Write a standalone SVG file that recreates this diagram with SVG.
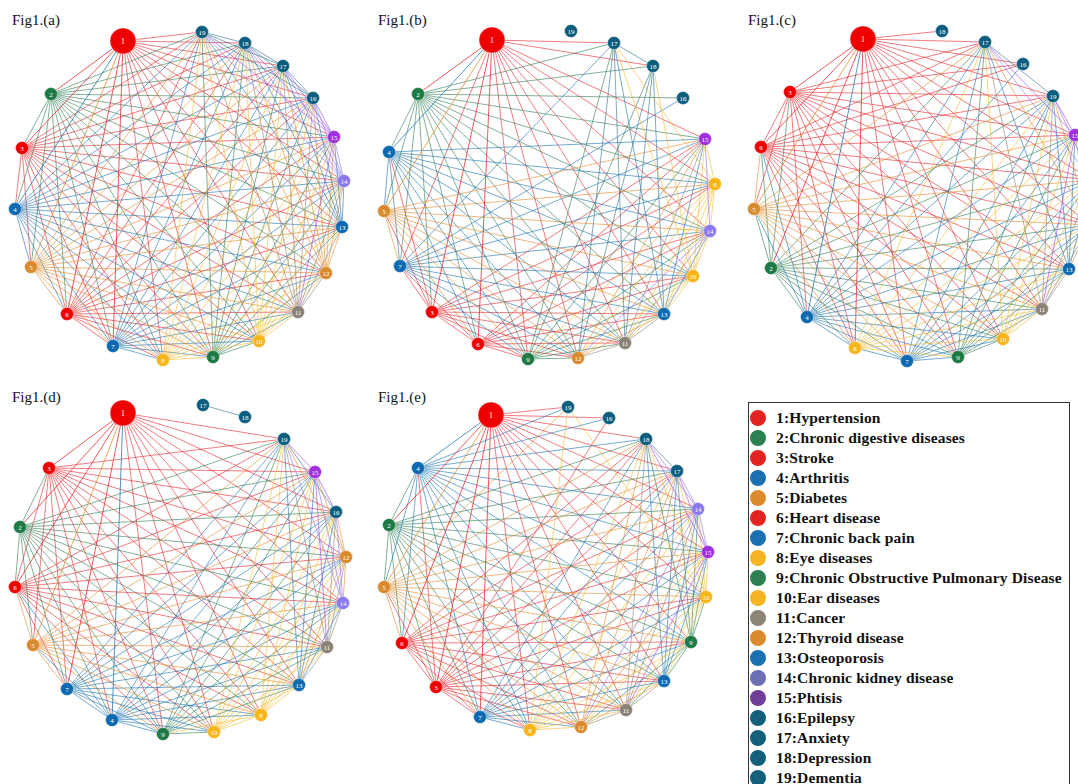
<svg xmlns="http://www.w3.org/2000/svg" width="1078" height="784" viewBox="0 0 1078 784">
<style>
.e path{fill:none;stroke-width:.8;stroke-opacity:.75;stroke-linecap:round}
.e path.w{stroke-opacity:.95}
.er{stroke:#E8232B}.eg{stroke:#2E7D50}.eb{stroke:#1A72B0}.eo{stroke:#E08A2A}.ey{stroke:#F5B82A}.ek{stroke:#8B8378}.el{stroke:#8A70F0}.ep{stroke:#A040F0}.et{stroke:#2A7090}
.n circle{stroke:#fff;stroke-width:.4}
.n text{fill:#fff;font-family:"Liberation Serif",serif;font-size:7px;text-anchor:middle}
.nr circle{fill:#EE0000}.ng circle{fill:#1E7A45}.nb circle{fill:#0E6AB0}.no circle{fill:#D98A2E}.ny circle{fill:#F8B517}.nk circle{fill:#8B8378}.nl circle{fill:#8A78EE}.np circle{fill:#A030E0}.nt circle{fill:#0C5E7E}
.big text{font-size:8px}
.lab{font-family:"Liberation Serif",serif;font-size:15px;fill:#111}
.leg text{font-family:"Liberation Serif",serif;font-size:15.5px;font-weight:bold;fill:#111;letter-spacing:.15px}
</style>
<rect width="1078" height="784" fill="#fff"/>
<g class="lab"><text x="12" y="25">Fig1.(a)</text><text x="378" y="25">Fig1.(b)</text><text x="748" y="25">Fig1.(c)</text><text x="12" y="402">Fig1.(d)</text><text x="378" y="402">Fig1.(e)</text></g>
<g id="connectors" class="e">
<!-- panel a -->
<path class="er" d="M123 41L163 360M123 41L213 357M123 41L259 341M123 41L298 312M123 41L326 273M123 41L342 227M123 41L344 181M123 41L334 137M123 41L313 98M123 41L283 66M123 41L245 43M123 41L202 32M22 148L15 209M22 148L31 267M22 148L67 314M22 148L113 346M22 148L163 360M22 148L213 357M22 148L259 341M22 148L298 312M22 148L326 273M22 148L342 227M22 148L344 181M22 148L334 137M22 148L313 98M22 148L283 66M22 148L245 43M22 148L202 32M67 314L113 346M67 314L163 360M67 314L213 357M67 314L259 341M67 314L298 312M67 314L326 273M67 314L342 227M67 314L344 181M67 314L334 137M67 314L313 98M67 314L283 66M67 314L245 43M67 314L202 32"/>
<path class="eg" d="M51 94L22 148M51 94L15 209M51 94L31 267M51 94L67 314M51 94L113 346M51 94L163 360M51 94L213 357M51 94L259 341M51 94L298 312M51 94L326 273M51 94L342 227M51 94L344 181M51 94L334 137M51 94L313 98M51 94L283 66M51 94L245 43M51 94L202 32M213 357L259 341M213 357L298 312M213 357L326 273M213 357L342 227M213 357L344 181M213 357L334 137M213 357L313 98M213 357L283 66M213 357L245 43M213 357L202 32"/>
<path class="eb" d="M15 209L31 267M15 209L67 314M15 209L113 346M15 209L163 360M15 209L213 357M15 209L259 341M15 209L298 312M15 209L326 273M15 209L342 227M15 209L344 181M15 209L334 137M15 209L313 98M15 209L283 66M15 209L245 43M15 209L202 32M113 346L163 360M113 346L213 357M113 346L259 341M113 346L298 312M113 346L326 273M113 346L342 227M113 346L344 181M113 346L334 137M113 346L313 98M113 346L283 66M113 346L245 43M113 346L202 32M342 227L344 181M342 227L334 137M342 227L313 98M342 227L283 66M342 227L245 43M342 227L202 32"/>
<path class="eo" d="M31 267L67 314M31 267L113 346M31 267L163 360M31 267L213 357M31 267L259 341M31 267L298 312M31 267L326 273M31 267L342 227M31 267L344 181M31 267L334 137M31 267L313 98M31 267L283 66M31 267L245 43M31 267L202 32M326 273L342 227M326 273L344 181M326 273L334 137M326 273L313 98M326 273L283 66M326 273L245 43M326 273L202 32"/>
<path class="ey" d="M163 360L213 357M163 360L259 341M163 360L298 312M163 360L326 273M163 360L342 227M163 360L344 181M163 360L334 137M163 360L313 98M163 360L283 66M163 360L245 43M163 360L202 32M259 341L298 312M259 341L326 273M259 341L342 227M259 341L344 181M259 341L334 137M259 341L313 98M259 341L283 66M259 341L245 43M259 341L202 32"/>
<path class="ek" d="M298 312L326 273M298 312L342 227M298 312L344 181M298 312L313 98M298 312L283 66M298 312L245 43M298 312L202 32"/>
<path class="ep" d="M298 312L334 137M334 137L313 98M334 137L283 66M334 137L245 43M334 137L202 32"/>
<path class="el" d="M344 181L334 137M344 181L313 98M344 181L283 66M344 181L245 43M344 181L202 32"/>
<path class="et" d="M313 98L283 66M313 98L245 43M313 98L202 32M283 66L245 43M283 66L202 32M245 43L202 32"/>
<path class="er w" stroke-width="2" d="M123 41L51 94M123 41L22 148M123 41L67 314"/>
<path class="er w" stroke-width="1.4" d="M123 41L113 346"/>
<path class="eb w" stroke-width="1.8" d="M123 41L15 209"/>
<path class="eo w" stroke-width="1.3" d="M123 41L31 267"/>
<!-- panel b -->
<path class="er" d="M492 40L400 266M492 40L715 184M492 40L528 359M492 40L693 276M492 40L625 343M492 40L578 358M492 40L664 314M492 40L710 231M492 40L705 139M492 40L614 43M492 40L653 66M432 312L389 152M432 312L384 211M432 312L478 344M432 312L400 266M432 312L715 184M432 312L528 359M432 312L693 276M432 312L625 343M432 312L578 358M432 312L664 314M432 312L710 231M432 312L705 139M478 344L400 266M478 344L715 184M478 344L528 359M478 344L693 276M478 344L625 343M478 344L578 358M478 344L664 314M478 344L710 231M478 344L705 139"/>
<path class="eg" d="M418 94L432 312M418 94L389 152M418 94L384 211M418 94L478 344M418 94L400 266M418 94L715 184M418 94L528 359M418 94L693 276M418 94L625 343M418 94L578 358M418 94L664 314M418 94L710 231M418 94L705 139M418 94L683 98M418 94L614 43M418 94L653 66M528 359L693 276M528 359L625 343M528 359L578 358M528 359L664 314M528 359L710 231M528 359L705 139M528 359L614 43M528 359L653 66"/>
<path class="eb" d="M389 152L384 211M389 152L478 344M389 152L400 266M389 152L715 184M389 152L528 359M389 152L693 276M389 152L625 343M389 152L578 358M389 152L664 314M389 152L710 231M389 152L705 139M400 266L715 184M400 266L528 359M400 266L693 276M400 266L625 343M400 266L578 358M400 266L664 314M400 266L710 231M400 266L705 139M400 266L683 98M400 266L614 43M664 314L710 231M664 314L705 139M664 314L614 43M664 314L653 66"/>
<path class="eo" d="M384 211L478 344M384 211L400 266M384 211L715 184M384 211L528 359M384 211L693 276M384 211L625 343M384 211L578 358M384 211L664 314M384 211L710 231M384 211L705 139M578 358L664 314M578 358L705 139"/>
<path class="ey" d="M715 184L528 359M715 184L693 276M715 184L625 343M715 184L578 358M715 184L664 314M715 184L710 231M715 184L705 139M715 184L614 43M693 276L625 343M693 276L578 358M693 276L664 314M693 276L710 231M693 276L705 139M693 276L614 43M693 276L653 66"/>
<path class="ek" d="M625 343L578 358M625 343L664 314M625 343L710 231M625 343L705 139"/>
<path class="el" d="M578 358L710 231M710 231L705 139"/>
<path class="et" d="M625 343L614 43M625 343L653 66M578 358L614 43M578 358L653 66M614 43L653 66"/>
<path class="er w" stroke-width="2" d="M492 40L418 94M492 40L478 344"/>
<path class="er w" stroke-width="1.7" d="M492 40L432 312"/>
<path class="eb w" stroke-width="2" d="M492 40L389 152"/>
<path class="eo w" stroke-width="1.3" d="M492 40L384 211"/>
<!-- panel c -->
<path class="er" d="M863 39L907 361M863 39L958 357M863 39L1003 339M863 39L1042 309M863 39L1090 225M863 39L1069 269M863 39L1092 180M863 39L1075 135M863 39L1023 64M863 39L985 42M863 39L942 31M863 39L1053 96M790 92L807 317M790 92L754 209M790 92L761 147M790 92L907 361M790 92L855 348M790 92L958 357M790 92L1003 339M790 92L1042 309M790 92L1090 225M790 92L1069 269M790 92L1092 180M790 92L1075 135M790 92L1023 64M790 92L985 42M790 92L1053 96M761 147L907 361M761 147L855 348M761 147L958 357M761 147L1003 339M761 147L1042 309M761 147L1090 225M761 147L1069 269M761 147L1092 180M761 147L1075 135M761 147L1023 64M761 147L985 42M761 147L1053 96"/>
<path class="eg" d="M771 268L790 92M771 268L807 317M771 268L754 209M771 268L761 147M771 268L907 361M771 268L855 348M771 268L958 357M771 268L1003 339M771 268L1042 309M771 268L1090 225M771 268L1069 269M771 268L1092 180M771 268L1075 135M771 268L985 42M771 268L1053 96M958 357L1003 339M958 357L1042 309M958 357L1090 225M958 357L1069 269M958 357L1092 180M958 357L1075 135M958 357L985 42M958 357L1053 96"/>
<path class="eb" d="M807 317L754 209M807 317L761 147M807 317L907 361M807 317L855 348M807 317L958 357M807 317L1003 339M807 317L1042 309M807 317L1090 225M807 317L1069 269M807 317L1092 180M807 317L1075 135M807 317L1023 64M807 317L985 42M807 317L1053 96M907 361L855 348M907 361L958 357M907 361L1003 339M907 361L1042 309M907 361L1090 225M907 361L1069 269M907 361L1092 180M907 361L1075 135M907 361L985 42M907 361L1053 96M1069 269L1092 180M1069 269L1075 135M1069 269L985 42M1069 269L1053 96"/>
<path class="eo" d="M754 209L761 147M754 209L907 361M754 209L855 348M754 209L958 357M754 209L1003 339M754 209L1042 309M754 209L1090 225M754 209L1069 269M754 209L1092 180M754 209L1075 135M754 209L985 42M754 209L1053 96M1090 225L1069 269M1090 225L1092 180M1090 225L1075 135M1090 225L985 42M1090 225L1053 96"/>
<path class="ey" d="M855 348L958 357M855 348L1003 339M855 348L1042 309M855 348L1090 225M855 348L1069 269M855 348L1092 180M855 348L1075 135M855 348L985 42M855 348L1053 96M1003 339L1042 309M1003 339L1090 225M1003 339L1069 269M1003 339L1092 180M1003 339L1075 135M1003 339L985 42M1003 339L1053 96"/>
<path class="ek" d="M1042 309L1090 225M1042 309L1069 269M1042 309L1092 180M1042 309L985 42M1042 309L1053 96"/>
<path class="ep" d="M1042 309L1075 135M1075 135L985 42M1075 135L1053 96"/>
<path class="el" d="M1092 180L1075 135M1092 180L985 42M1092 180L1053 96"/>
<path class="et" d="M985 42L1053 96"/>
<path class="er w" stroke-width="2" d="M863 39L790 92M863 39L761 147"/>
<path class="er w" stroke-width="1.6" d="M863 39L771 268"/>
<path class="er w" stroke-width="1.2" d="M863 39L855 348"/>
<path class="eo w" stroke-width="1.3" d="M863 39L754 209"/>
<path class="eb w" stroke-width="1.5" d="M863 39L807 317"/>
<!-- panel d -->
<path class="er" d="M123 413L261 715M123 413L163 734M123 413L214 732M123 413L327 647M123 413L346 557M123 413L299 685M123 413L343 603M123 413L315 472M123 413L336 512M123 413L284 439M49 468L112 720M49 468L33 645M49 468L15 587M49 468L67 689M49 468L261 715M49 468L163 734M49 468L214 732M49 468L327 647M49 468L346 557M49 468L299 685M49 468L343 603M49 468L315 472M49 468L336 512M49 468L284 439M15 587L67 689M15 587L261 715M15 587L163 734M15 587L214 732M15 587L327 647M15 587L346 557M15 587L299 685M15 587L343 603M15 587L315 472M15 587L336 512M15 587L284 439"/>
<path class="eg" d="M20 527L49 468M20 527L112 720M20 527L33 645M20 527L15 587M20 527L67 689M20 527L261 715M20 527L163 734M20 527L214 732M20 527L327 647M20 527L346 557M20 527L299 685M20 527L343 603M20 527L315 472M20 527L336 512M20 527L284 439M163 734L214 732M163 734L327 647M163 734L346 557M163 734L299 685M163 734L343 603M163 734L315 472M163 734L336 512M163 734L284 439"/>
<path class="eb" d="M112 720L33 645M112 720L15 587M112 720L67 689M112 720L261 715M112 720L163 734M112 720L214 732M112 720L327 647M112 720L346 557M112 720L299 685M112 720L343 603M112 720L315 472M112 720L336 512M112 720L284 439M67 689L261 715M67 689L163 734M67 689L214 732M67 689L327 647M67 689L346 557M67 689L299 685M67 689L343 603M67 689L315 472M67 689L336 512M67 689L284 439M299 685L343 603M299 685L315 472M299 685L336 512M299 685L284 439"/>
<path class="eo" d="M33 645L15 587M33 645L67 689M33 645L261 715M33 645L163 734M33 645L214 732M33 645L327 647M33 645L346 557M33 645L299 685M33 645L343 603M33 645L315 472M33 645L336 512M33 645L284 439M346 557L299 685M346 557L343 603M346 557L315 472M346 557L336 512M346 557L284 439"/>
<path class="ey" d="M261 715L163 734M261 715L214 732M261 715L327 647M261 715L346 557M261 715L299 685M261 715L343 603M261 715L315 472M261 715L336 512M261 715L284 439M214 732L327 647M214 732L346 557M214 732L299 685M214 732L343 603M214 732L315 472M214 732L336 512M214 732L284 439"/>
<path class="ek" d="M327 647L346 557M327 647L299 685M327 647L343 603M327 647L336 512M327 647L284 439"/>
<path class="ep" d="M327 647L315 472M315 472L336 512M315 472L284 439"/>
<path class="el" d="M343 603L315 472M343 603L336 512M343 603L284 439"/>
<path class="et" d="M336 512L284 439M203 405L245 417"/>
<path class="er w" stroke-width="2" d="M123 413L49 468M123 413L15 587"/>
<path class="er w" stroke-width="1.4" d="M123 413L20 527"/>
<path class="er w" stroke-width="1.2" d="M123 413L67 689"/>
<path class="eo w" stroke-width="1.2" d="M123 413L33 645"/>
<path class="eb w" stroke-width="1.2" d="M123 413L112 720"/>
<!-- panel e -->
<path class="er" d="M491 415L530 730M491 415L691 642M491 415L706 597M491 415L626 710M491 415L581 727M491 415L664 681M491 415L698 509M491 415L708 552M491 415L609 418M491 415L677 471M491 415L646 439M491 415L568 407M436 687L418 468M436 687L384 587M436 687L402 643M436 687L480 717M436 687L530 730M436 687L691 642M436 687L706 597M436 687L626 710M436 687L581 727M436 687L664 681M436 687L698 509M436 687L708 552M436 687L609 418M436 687L677 471M436 687L646 439M402 643L480 717M402 643L530 730M402 643L691 642M402 643L706 597M402 643L626 710M402 643L581 727M402 643L664 681M402 643L698 509M402 643L708 552M402 643L677 471M402 643L646 439"/>
<path class="eg" d="M389 525L436 687M389 525L418 468M389 525L384 587M389 525L402 643M389 525L480 717M389 525L530 730M389 525L691 642M389 525L706 597M389 525L626 710M389 525L581 727M389 525L664 681M389 525L698 509M389 525L708 552M389 525L677 471M389 525L646 439M691 642L706 597M691 642L626 710M691 642L581 727M691 642L664 681M691 642L698 509M691 642L708 552M691 642L677 471M691 642L646 439"/>
<path class="eb" d="M418 468L384 587M418 468L402 643M418 468L480 717M418 468L530 730M418 468L691 642M418 468L706 597M418 468L626 710M418 468L581 727M418 468L664 681M418 468L698 509M418 468L708 552M418 468L609 418M418 468L677 471M418 468L646 439M418 468L568 407M480 717L530 730M480 717L691 642M480 717L706 597M480 717L626 710M480 717L581 727M480 717L664 681M480 717L698 509M480 717L708 552M480 717L677 471M480 717L646 439M664 681L698 509M664 681L708 552M664 681L677 471M664 681L646 439"/>
<path class="eo" d="M384 587L402 643M384 587L480 717M384 587L530 730M384 587L691 642M384 587L706 597M384 587L626 710M384 587L581 727M384 587L664 681M384 587L698 509M384 587L708 552M384 587L677 471M384 587L646 439M384 587L568 407M581 727L664 681M581 727L708 552M581 727L677 471M581 727L646 439"/>
<path class="ey" d="M530 730L691 642M530 730L706 597M530 730L626 710M530 730L581 727M530 730L664 681M530 730L698 509M530 730L708 552M530 730L677 471M530 730L646 439M530 730L568 407M706 597L626 710M706 597L581 727M706 597L664 681M706 597L698 509M706 597L708 552M706 597L677 471M706 597L646 439M706 597L568 407"/>
<path class="ek" d="M626 710L581 727M626 710L664 681M626 710L698 509M626 710L677 471M626 710L646 439"/>
<path class="ep" d="M626 710L708 552M708 552L677 471M708 552L646 439"/>
<path class="el" d="M581 727L698 509M698 509L708 552M698 509L677 471M698 509L646 439"/>
<path class="et" d="M677 471L646 439"/>
<path class="eb w" stroke-width="2" d="M491 415L418 468"/>
<path class="er w" stroke-width="2" d="M491 415L389 525"/>
<path class="er w" stroke-width="1.7" d="M491 415L402 643M491 415L436 687"/>
<path class="er w" stroke-width="1.4" d="M491 415L480 717"/>
<path class="eo w" stroke-width="1.5" d="M491 415L384 587"/>
</g>
<g id="nodes-a">
<g id="a1" class="n nr big"><circle cx="123" cy="41" r="13"/><text x="123" y="44">1</text></g>
<g id="a2" class="n ng"><circle cx="51" cy="94" r="6.5"/><text x="51" y="96.5">2</text></g>
<g id="a3" class="n nr"><circle cx="22" cy="148" r="6.5"/><text x="22" y="150.5">3</text></g>
<g id="a4" class="n nb"><circle cx="15" cy="209" r="6.5"/><text x="15" y="211.5">4</text></g>
<g id="a5" class="n no"><circle cx="31" cy="267" r="6.5"/><text x="31" y="269.5">5</text></g>
<g id="a6" class="n nr"><circle cx="67" cy="314" r="6.5"/><text x="67" y="316.5">6</text></g>
<g id="a7" class="n nb"><circle cx="113" cy="346" r="6.5"/><text x="113" y="348.5">7</text></g>
<g id="a8" class="n ny"><circle cx="163" cy="360" r="6.5"/><text x="163" y="362.5">8</text></g>
<g id="a9" class="n ng"><circle cx="213" cy="357" r="6.5"/><text x="213" y="359.5">9</text></g>
<g id="a10" class="n ny"><circle cx="259" cy="341" r="6.5"/><text x="259" y="343.5">10</text></g>
<g id="a11" class="n nk"><circle cx="298" cy="312" r="6.5"/><text x="298" y="314.5">11</text></g>
<g id="a12" class="n no"><circle cx="326" cy="273" r="6.5"/><text x="326" y="275.5">12</text></g>
<g id="a13" class="n nb"><circle cx="342" cy="227" r="6.5"/><text x="342" y="229.5">13</text></g>
<g id="a14" class="n nl"><circle cx="344" cy="181" r="6.5"/><text x="344" y="183.5">14</text></g>
<g id="a15" class="n np"><circle cx="334" cy="137" r="6.5"/><text x="334" y="139.5">15</text></g>
<g id="a16" class="n nt"><circle cx="313" cy="98" r="6.5"/><text x="313" y="100.5">16</text></g>
<g id="a17" class="n nt"><circle cx="283" cy="66" r="6.5"/><text x="283" y="68.5">17</text></g>
<g id="a18" class="n nt"><circle cx="245" cy="43" r="6.5"/><text x="245" y="45.5">18</text></g>
<g id="a19" class="n nt"><circle cx="202" cy="32" r="6.5"/><text x="202" y="34.5">19</text></g>
</g>
<g id="nodes-b">
<g id="b1" class="n nr big"><circle cx="492" cy="40" r="13"/><text x="492" y="43">1</text></g>
<g id="b2" class="n ng"><circle cx="418" cy="94" r="6.5"/><text x="418" y="96.5">2</text></g>
<g id="b3" class="n nr"><circle cx="432" cy="312" r="6.5"/><text x="432" y="314.5">3</text></g>
<g id="b4" class="n nb"><circle cx="389" cy="152" r="6.5"/><text x="389" y="154.5">4</text></g>
<g id="b5" class="n no"><circle cx="384" cy="211" r="6.5"/><text x="384" y="213.5">5</text></g>
<g id="b6" class="n nr"><circle cx="478" cy="344" r="6.5"/><text x="478" y="346.5">6</text></g>
<g id="b7" class="n nb"><circle cx="400" cy="266" r="6.5"/><text x="400" y="268.5">7</text></g>
<g id="b8" class="n ny"><circle cx="715" cy="184" r="6.5"/><text x="715" y="186.5">8</text></g>
<g id="b9" class="n ng"><circle cx="528" cy="359" r="6.5"/><text x="528" y="361.5">9</text></g>
<g id="b10" class="n ny"><circle cx="693" cy="276" r="6.5"/><text x="693" y="278.5">10</text></g>
<g id="b11" class="n nk"><circle cx="625" cy="343" r="6.5"/><text x="625" y="345.5">11</text></g>
<g id="b12" class="n no"><circle cx="578" cy="358" r="6.5"/><text x="578" y="360.5">12</text></g>
<g id="b13" class="n nb"><circle cx="664" cy="314" r="6.5"/><text x="664" y="316.5">13</text></g>
<g id="b14" class="n nl"><circle cx="710" cy="231" r="6.5"/><text x="710" y="233.5">14</text></g>
<g id="b15" class="n np"><circle cx="705" cy="139" r="6.5"/><text x="705" y="141.5">15</text></g>
<g id="b16" class="n nt"><circle cx="683" cy="98" r="6.5"/><text x="683" y="100.5">16</text></g>
<g id="b17" class="n nt"><circle cx="614" cy="43" r="6.5"/><text x="614" y="45.5">17</text></g>
<g id="b18" class="n nt"><circle cx="653" cy="66" r="6.5"/><text x="653" y="68.5">18</text></g>
<g id="b19" class="n nt"><circle cx="571" cy="31" r="6.5"/><text x="571" y="33.5">19</text></g>
</g>
<g id="nodes-c">
<g id="c1" class="n nr big"><circle cx="863" cy="39" r="13"/><text x="863" y="42">1</text></g>
<g id="c2" class="n ng"><circle cx="771" cy="268" r="6.5"/><text x="771" y="270.5">2</text></g>
<g id="c3" class="n nr"><circle cx="790" cy="92" r="6.5"/><text x="790" y="94.5">3</text></g>
<g id="c4" class="n nb"><circle cx="807" cy="317" r="6.5"/><text x="807" y="319.5">4</text></g>
<g id="c5" class="n no"><circle cx="754" cy="209" r="6.5"/><text x="754" y="211.5">5</text></g>
<g id="c6" class="n nr"><circle cx="761" cy="147" r="6.5"/><text x="761" y="149.5">6</text></g>
<g id="c7" class="n nb"><circle cx="907" cy="361" r="6.5"/><text x="907" y="363.5">7</text></g>
<g id="c8" class="n ny"><circle cx="855" cy="348" r="6.5"/><text x="855" y="350.5">8</text></g>
<g id="c9" class="n ng"><circle cx="958" cy="357" r="6.5"/><text x="958" y="359.5">9</text></g>
<g id="c10" class="n ny"><circle cx="1003" cy="339" r="6.5"/><text x="1003" y="341.5">10</text></g>
<g id="c11" class="n nk"><circle cx="1042" cy="309" r="6.5"/><text x="1042" y="311.5">11</text></g>
<g id="c13" class="n nb"><circle cx="1069" cy="269" r="6.5"/><text x="1069" y="271.5">13</text></g>
<g id="c15" class="n np"><circle cx="1075" cy="135" r="6.5"/><text x="1075" y="137.5">15</text></g>
<g id="c16" class="n nt"><circle cx="1023" cy="64" r="6.5"/><text x="1023" y="66.5">16</text></g>
<g id="c17" class="n nt"><circle cx="985" cy="42" r="6.5"/><text x="985" y="44.5">17</text></g>
<g id="c18" class="n nt"><circle cx="942" cy="31" r="6.5"/><text x="942" y="33.5">18</text></g>
<g id="c19" class="n nt"><circle cx="1053" cy="96" r="6.5"/><text x="1053" y="98.5">19</text></g>
</g>
<g id="nodes-d">
<g id="d1" class="n nr big"><circle cx="123" cy="413" r="13"/><text x="123" y="416">1</text></g>
<g id="d2" class="n ng"><circle cx="20" cy="527" r="6.5"/><text x="20" y="529.5">2</text></g>
<g id="d3" class="n nr"><circle cx="49" cy="468" r="6.5"/><text x="49" y="470.5">3</text></g>
<g id="d4" class="n nb"><circle cx="112" cy="720" r="6.5"/><text x="112" y="722.5">4</text></g>
<g id="d5" class="n no"><circle cx="33" cy="645" r="6.5"/><text x="33" y="647.5">5</text></g>
<g id="d6" class="n nr"><circle cx="15" cy="587" r="6.5"/><text x="15" y="589.5">6</text></g>
<g id="d7" class="n nb"><circle cx="67" cy="689" r="6.5"/><text x="67" y="691.5">7</text></g>
<g id="d8" class="n ny"><circle cx="261" cy="715" r="6.5"/><text x="261" y="717.5">8</text></g>
<g id="d9" class="n ng"><circle cx="163" cy="734" r="6.5"/><text x="163" y="736.5">9</text></g>
<g id="d10" class="n ny"><circle cx="214" cy="732" r="6.5"/><text x="214" y="734.5">10</text></g>
<g id="d11" class="n nk"><circle cx="327" cy="647" r="6.5"/><text x="327" y="649.5">11</text></g>
<g id="d12" class="n no"><circle cx="346" cy="557" r="6.5"/><text x="346" y="559.5">12</text></g>
<g id="d13" class="n nb"><circle cx="299" cy="685" r="6.5"/><text x="299" y="687.5">13</text></g>
<g id="d14" class="n nl"><circle cx="343" cy="603" r="6.5"/><text x="343" y="605.5">14</text></g>
<g id="d15" class="n np"><circle cx="315" cy="472" r="6.5"/><text x="315" y="474.5">15</text></g>
<g id="d16" class="n nt"><circle cx="336" cy="512" r="6.5"/><text x="336" y="514.5">16</text></g>
<g id="d17" class="n nt"><circle cx="203" cy="405" r="6.5"/><text x="203" y="407.5">17</text></g>
<g id="d18" class="n nt"><circle cx="245" cy="417" r="6.5"/><text x="245" y="419.5">18</text></g>
<g id="d19" class="n nt"><circle cx="284" cy="439" r="6.5"/><text x="284" y="441.5">19</text></g>
</g>
<g id="nodes-e">
<g id="e1" class="n nr big"><circle cx="491" cy="415" r="13"/><text x="491" y="418">1</text></g>
<g id="e2" class="n ng"><circle cx="389" cy="525" r="6.5"/><text x="389" y="527.5">2</text></g>
<g id="e3" class="n nr"><circle cx="436" cy="687" r="6.5"/><text x="436" y="689.5">3</text></g>
<g id="e4" class="n nb"><circle cx="418" cy="468" r="6.5"/><text x="418" y="470.5">4</text></g>
<g id="e5" class="n no"><circle cx="384" cy="587" r="6.5"/><text x="384" y="589.5">5</text></g>
<g id="e6" class="n nr"><circle cx="402" cy="643" r="6.5"/><text x="402" y="645.5">6</text></g>
<g id="e7" class="n nb"><circle cx="480" cy="717" r="6.5"/><text x="480" y="719.5">7</text></g>
<g id="e8" class="n ny"><circle cx="530" cy="730" r="6.5"/><text x="530" y="732.5">8</text></g>
<g id="e9" class="n ng"><circle cx="691" cy="642" r="6.5"/><text x="691" y="644.5">9</text></g>
<g id="e10" class="n ny"><circle cx="706" cy="597" r="6.5"/><text x="706" y="599.5">10</text></g>
<g id="e11" class="n nk"><circle cx="626" cy="710" r="6.5"/><text x="626" y="712.5">11</text></g>
<g id="e12" class="n no"><circle cx="581" cy="727" r="6.5"/><text x="581" y="729.5">12</text></g>
<g id="e13" class="n nb"><circle cx="664" cy="681" r="6.5"/><text x="664" y="683.5">13</text></g>
<g id="e14" class="n nl"><circle cx="698" cy="509" r="6.5"/><text x="698" y="511.5">14</text></g>
<g id="e15" class="n np"><circle cx="708" cy="552" r="6.5"/><text x="708" y="554.5">15</text></g>
<g id="e16" class="n nt"><circle cx="609" cy="418" r="6.5"/><text x="609" y="420.5">16</text></g>
<g id="e17" class="n nt"><circle cx="677" cy="471" r="6.5"/><text x="677" y="473.5">17</text></g>
<g id="e18" class="n nt"><circle cx="646" cy="439" r="6.5"/><text x="646" y="441.5">18</text></g>
<g id="e19" class="n nt"><circle cx="568" cy="407" r="6.5"/><text x="568" y="409.5">19</text></g>
</g>
<g id="legend" class="leg">
<rect x="748.5" y="402.5" width="321" height="400" fill="#fff" stroke="#333" stroke-width="1"/>
<circle cx="758" cy="418" r="8" fill="#E32322"/><text x="776" y="423">1:Hypertension</text>
<circle cx="758" cy="438" r="8" fill="#2A8050"/><text x="776" y="443">2:Chronic digestive diseases</text>
<circle cx="758" cy="458" r="8" fill="#E32322"/><text x="776" y="463">3:Stroke</text>
<circle cx="758" cy="478" r="8" fill="#1A70B0"/><text x="776" y="483">4:Arthritis</text>
<circle cx="758" cy="498" r="8" fill="#DC8A2E"/><text x="776" y="503">5:Diabetes</text>
<circle cx="758" cy="518" r="8" fill="#E32322"/><text x="776" y="523">6:Heart disease</text>
<circle cx="758" cy="538" r="8" fill="#1A70B0"/><text x="776" y="543">7:Chronic back pain</text>
<circle cx="758" cy="558" r="8" fill="#F6B323"/><text x="776" y="563">8:Eye diseases</text>
<circle cx="758" cy="578" r="8" fill="#2A8050"/><text x="776" y="583">9:Chronic Obstructive Pulmonary Disease</text>
<circle cx="758" cy="598" r="8" fill="#F6B323"/><text x="776" y="603">10:Ear diseases</text>
<circle cx="758" cy="618" r="8" fill="#8C8475"/><text x="776" y="623">11:Cancer</text>
<circle cx="758" cy="638" r="8" fill="#DC8A2E"/><text x="776" y="643">12:Thyroid disease</text>
<circle cx="758" cy="658" r="8" fill="#1A70B0"/><text x="776" y="663">13:Osteoporosis</text>
<circle cx="758" cy="678" r="8" fill="#6E6EB5"/><text x="776" y="683">14:Chronic kidney disease</text>
<circle cx="758" cy="698" r="8" fill="#6F3F98"/><text x="776" y="703">15:Phtisis</text>
<circle cx="758" cy="718" r="8" fill="#13607A"/><text x="776" y="723">16:Epilepsy</text>
<circle cx="758" cy="738" r="8" fill="#13607A"/><text x="776" y="743">17:Anxiety</text>
<circle cx="758" cy="758" r="8" fill="#13607A"/><text x="776" y="763">18:Depression</text>
<circle cx="758" cy="778" r="8" fill="#13607A"/><text x="776" y="783">19:Dementia</text>
</g>
</svg>
